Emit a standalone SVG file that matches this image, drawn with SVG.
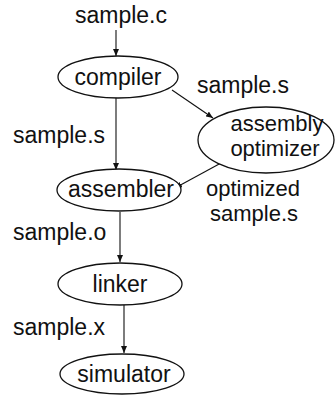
<svg xmlns="http://www.w3.org/2000/svg" width="335" height="395" viewBox="0 0 335 395">
<defs>
<marker id="ah" markerWidth="8" markerHeight="6" refX="7" refY="3" orient="auto" markerUnits="userSpaceOnUse">
<path d="M0,0 L7,3 L0,6 Z" fill="#111"/>
</marker>
<style>
text{font-family:"Liberation Sans",Arial,sans-serif;font-size:23px;fill:#111}
.c{text-anchor:middle}
.s{font-size:22px}
ellipse{fill:#fff;stroke:#111;stroke-width:1.3}
.e line{stroke:#111;stroke-width:1.1;marker-end:url(#ah)}
</style>
</defs>
<rect width="335" height="395" fill="#fff"/>
<g id="edges" class="e">
<line x1="116" y1="30" x2="116" y2="56"/>
<line x1="116" y1="98" x2="116" y2="170"/>
<line x1="172" y1="90" x2="213" y2="118"/>
<line x1="221" y1="163" x2="175" y2="188"/>
<line x1="120" y1="212" x2="120" y2="262"/>
<line x1="124" y1="305" x2="124" y2="353"/>
</g>
<g id="src"><text class="c" x="121" y="23">sample.c</text></g>
<g id="compiler"><ellipse cx="118" cy="77" rx="60" ry="21"/><text class="c" x="118" y="85">compiler</text></g>
<g id="optimizer"><ellipse cx="266" cy="140" rx="68" ry="33"/><text class="c s" x="277" y="131">assembly</text><text class="c s" x="275" y="156">optimizer</text></g>
<g id="assembler"><ellipse cx="119" cy="190" rx="62" ry="21"/><text class="c" x="121" y="197">assembler</text></g>
<g id="linker"><ellipse cx="120" cy="284" rx="62" ry="21"/><text class="c" x="120" y="292">linker</text></g>
<g id="simulator"><ellipse cx="122" cy="374" rx="62" ry="20"/><text class="c" x="124" y="382">simulator</text></g>
<g id="labels">
<text class="c" x="243" y="93">sample.s</text>
<text x="13" y="143">sample.s</text>
<text class="c s" x="253" y="196">optimized</text>
<text class="c s" x="254" y="221">sample.s</text>
<text x="13" y="240">sample.o</text>
<text x="13" y="335">sample.x</text>
</g>
</svg>
